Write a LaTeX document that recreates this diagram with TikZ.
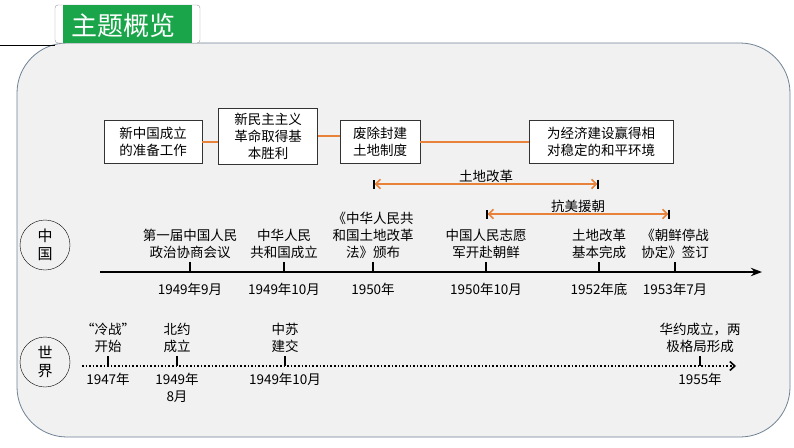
\documentclass[tikz,border=0pt]{standalone}
\usepackage{fontspec}
\setmainfont{Noto Sans CJK SC}
\usetikzlibrary{positioning,arrows.meta}
\definecolor{topicgreen}{HTML}{1BA54B}
\definecolor{panelgray}{HTML}{F1F1F1}
\definecolor{panelline}{HTML}{6F8194}
\definecolor{linkorange}{HTML}{E8823A}
\tikzset{>=Stealth,
  eventbox/.style={draw=black!80,fill=white,align=center,inner sep=2pt,font=\fontsize{13.5}{17}\selectfont},
  event/.style={align=center,inner sep=1pt,font=\fontsize{13.5}{17}\selectfont},
  link/.style={linkorange,line width=1.6pt},
  span/.style={linkorange,line width=1.6pt,{|[black,width=9pt]Straight Barb[]}-{Straight Barb[]|[black,width=9pt]}},
  tick/.style={line width=1.4pt},
  region/.style={draw,circle,minimum size=50pt,inner sep=0pt,align=center,font=\fontsize{15}{18}\selectfont}}
\begin{document}
\begin{tikzpicture}[x=1pt,y=-1pt]
\useasboundingbox (0,0) rectangle (794,447);
% panel and title
\draw[panelline,fill=panelgray,line width=.8pt,rounded corners=50pt] (17,43) rectangle (790,437);
\draw (0,45) -- (55,45);
\draw[black!40,rounded corners=3pt,fill=white] (55,5) rectangle (200,43);
\fill[topicgreen] (63,5) rectangle (192,43);
\node[white,font=\fontsize{26}{28}\selectfont] (title) at (123,26) {主题概览};
% top boxes
\node[eventbox,minimum width=98pt,minimum height=43pt] (prep) at (153,142) {新中国成立\\的准备工作};
\node[eventbox,minimum width=99pt,minimum height=56pt] (win) at (268,136) {新民主主义\\革命取得基\\本胜利};
\node[eventbox,minimum width=80pt,minimum height=43pt] (land) at (380,142) {废除封建\\土地制度};
\node[eventbox,minimum width=144pt,minimum height=43pt] (peace) at (601,142) {为经济建设赢得相\\对稳定的和平环境};
\draw[link] (prep) -- (prep-|win.west);
\draw[link] (land.west|-win) -- (win);
\draw[link] (land) -- (peace);
% spans
\coordinate (lr1) at (373,184);
\coordinate (lr2) at (599,184);
\draw[span] (lr1) -- node[above,event,black] {土地改革} (lr2);
\coordinate (ku1) at (486,214);
\coordinate (ku2) at (670,214);
\draw[span] (ku1) -- node[above,event,black] {抗美援朝} (ku2);
% China axis
\node[region] (cn) at (45,245) {中\\国};
\coordinate (cs) at (100,272);
\coordinate (ce) at (762,272);
\draw[line width=1.8pt,->] (cs) -- (ce);
\foreach \x/\top/\date in {190/第一届中国人民\\政治协商会议/1949年9月,
  284/中华人民\\共和国成立/1949年10月,
  373/《中华人民共\\和国土地改革\\法》颁布/1950年,
  486/中国人民志愿\\军开赴朝鲜/1950年10月,
  599/土地改革\\基本完成/1952年底,
  675/《朝鲜停战\\协定》签订/1953年7月}{
  \draw[tick] (\x,272) -- (\x,262);
  \node[event,above] at (\x,260) {\top};
  \node[event,below] at (\x,282) {\date};
}
% world axis
\node[region] (wd) at (45,362) {世\\界};
\coordinate (ws) at (82,366);
\coordinate (we) at (736,366);
\draw[line width=1.6pt,dotted,-{Straight Barb[length=5pt,width=9pt,line width=1.6pt]}] (ws) -- (we);
\foreach \x/\top/\date in {108/“冷战”\\开始/1947年,
  177/北约\\成立/1949年\\8月,
  285/中苏\\建交/1949年10月,
  700/华约成立，两\\极格局形成/1955年}{
  \draw[tick] (\x,366) -- (\x,356);
  \node[event,above] at (\x,354) {\top};
  \node[event,below] at (\x,372) {\date};
}
\end{tikzpicture}
\end{document}
